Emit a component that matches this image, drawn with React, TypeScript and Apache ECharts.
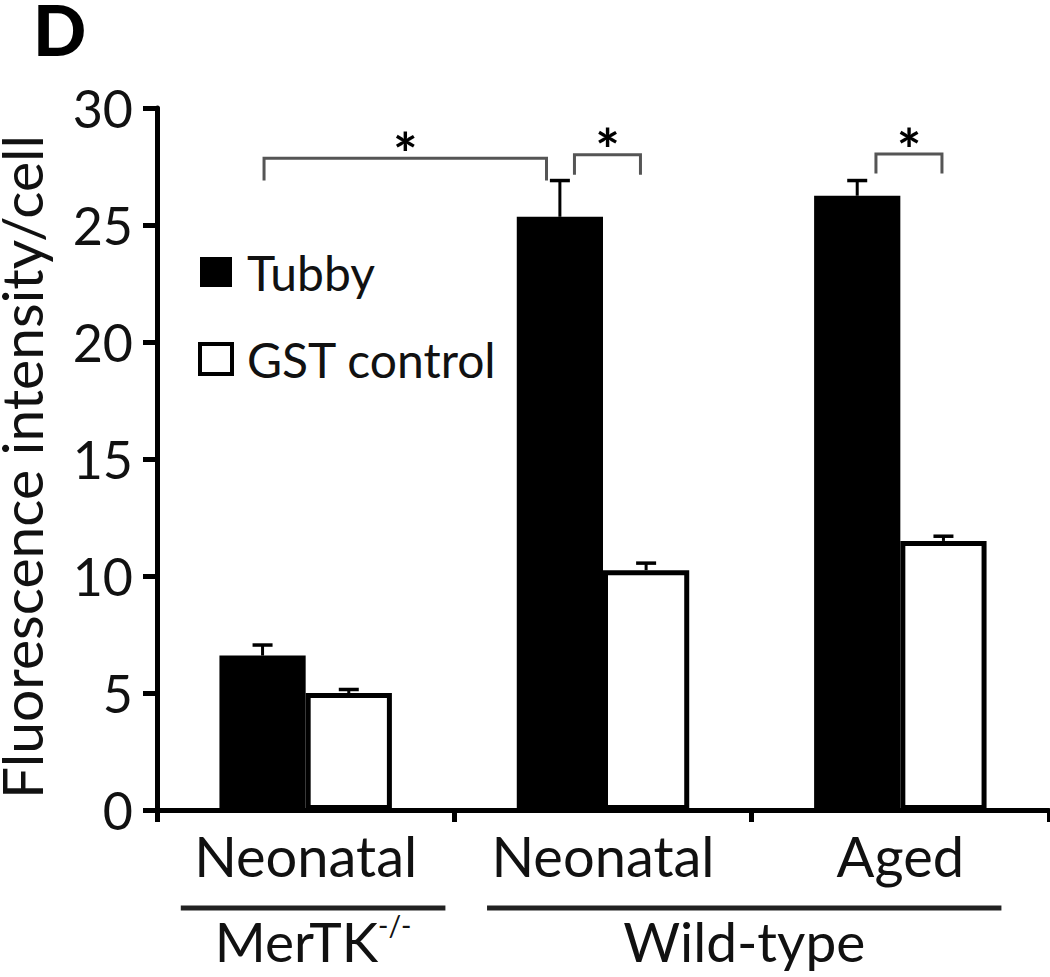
import React, { useEffect, useRef } from 'react';
import * as echarts from 'echarts';

// ---- data ----
const categories = ['Neonatal', 'Neonatal', 'Aged'];
const seriesNames = ['Tubby', 'GST control'];
const tubbyValues = [6.6, 25.35, 26.25];
const tubbyErrors = [0.45, 1.55, 0.65];
const gstValues = [5.0, 10.25, 11.5];
const gstErrors = [0.15, 0.3, 0.2];
const yMin = 0;
const yMax = 30;
const yInterval = 5;
const yAxisTitle = 'Fluorescence intensity/cell';

// group labels under the categories
const groupNames = ['MerTK', 'Wild-type'];
const groupSups = ['-/-', ''];
const groupStart = [-0.42, 0.61]; // in category units
const groupEnd = [0.47, 2.34];

// significance brackets (x in category units, y in data units)
const bracketStart = [-0.14, 0.904, 1.918];
const bracketEnd = [0.81, 1.126, 2.14];
const bracketTop = [27.85, 28.0, 28.03];
const bracketLegEnd = [26.9, 27.15, 27.2];
const bracketLabels = ['*', '*', '*'];

const FONT = 'Lato, "Open Sans", sans-serif';
const BAR_CAT_GAP = 0.42;

export default function App() {
  const ref = useRef<HTMLDivElement>(null);

  useEffect(() => {
    if (!ref.current) return;
    const chart = echarts.init(ref.current, undefined, { renderer: 'svg' });

    const errData: number[][] = [];
    tubbyValues.forEach((v, i) => errData.push([i, v, tubbyErrors[i], 0]));
    gstValues.forEach((v, i) => errData.push([i, v, gstErrors[i], 1]));

    const option: any = {
      animation: false,
      backgroundColor: '#fff',
      grid: {
        left: 157,
        right: 1,
        top: 108,
        bottom: 167,
        containLabel: false,
        outerBoundsMode: 'none',
      },
      legend: {
        orient: 'vertical',
        left: 193,
        top: 243,
        itemWidth: 32,
        itemHeight: 30,
        itemGap: 39,
        textStyle: { fontSize: 48, fontFamily: FONT, color: '#111', padding: [0, 0, 0, 10] },
        data: [
          { name: seriesNames[0], icon: 'rect', itemStyle: { color: '#000' } },
          {
            name: seriesNames[1],
            icon: 'rect',
            itemStyle: { color: '#fff', borderColor: '#000', borderWidth: 4 },
          },
        ],
      },
      xAxis: {
        type: 'category',
        data: categories,
        axisLine: { lineStyle: { color: '#000', width: 5 } },
        axisTick: { show: true, length: 12, lineStyle: { color: '#000', width: 5 } },
        axisLabel: { fontSize: 56, fontFamily: FONT, color: '#111', margin: 17 },
      },
      yAxis: {
        type: 'value',
        min: yMin,
        max: yMax,
        interval: yInterval,
        name: yAxisTitle,
        nameLocation: 'middle',
        nameGap: 116,
        nameTextStyle: {
          fontSize: 57,
          lineHeight: 40,
          fontFamily: FONT,
          color: '#111',
          padding: [0, 16, 0, 0],
        },
        splitLine: { show: false },
        axisLine: { show: true, lineStyle: { color: '#000', width: 5 } },
        axisTick: { show: true, length: 14, lineStyle: { color: '#000', width: 5 } },
        axisLabel: { fontSize: 52, fontFamily: FONT, color: '#111', margin: 24 },
      },
      series: [
        {
          name: seriesNames[0],
          type: 'bar',
          data: tubbyValues,
          barGap: '0%',
          barCategoryGap: BAR_CAT_GAP * 100 + '%',
          itemStyle: { color: '#000' },
          z: 2,
        },
        {
          name: seriesNames[1],
          type: 'bar',
          data: gstValues,
          barGap: '0%',
          barCategoryGap: BAR_CAT_GAP * 100 + '%',
          itemStyle: { color: '#fff', borderColor: '#000', borderWidth: 5 },
          z: 2,
        },
        {
          name: 'errors',
          type: 'custom',
          data: errData,
          encode: { x: 0, y: 1 },
          z: 3,
          renderItem: (params: any, api: any) => {
            const cat = api.value(0);
            const val = api.value(1);
            const err = api.value(2);
            const s = api.value(3);
            const band = api.size([1, 0])[0];
            const barW = (band * (1 - BAR_CAT_GAP)) / 2;
            const c = api.coord([cat, val]);
            const t = api.coord([cat, val + err]);
            const x = c[0] + (s === 0 ? -barW / 2 : barW / 2);
            return {
              type: 'group',
              children: [
                {
                  type: 'line',
                  shape: { x1: x, y1: c[1], x2: x, y2: t[1] },
                  style: { stroke: '#000', lineWidth: 3 },
                },
                {
                  type: 'line',
                  shape: { x1: x - 10, y1: t[1], x2: x + 10, y2: t[1] },
                  style: { stroke: '#000', lineWidth: 3.5 },
                },
              ],
            };
          },
        },
        {
          name: 'brackets',
          type: 'custom',
          data: bracketTop.map((v, i) => [0, v, i]),
          encode: { x: 0, y: 1 },
          z: 4,
          renderItem: (params: any, api: any) => {
            const i = api.value(2);
            const band = api.size([1, 0])[0];
            const c0 = api.coord([0, bracketTop[i]]);
            const legY = api.coord([0, bracketLegEnd[i]])[1];
            const x1 = c0[0] + bracketStart[i] * band;
            const x2 = c0[0] + bracketEnd[i] * band;
            const y = c0[1];
            return {
              type: 'group',
              children: [
                {
                  type: 'polyline',
                  shape: { points: [[x1, legY], [x1, y], [x2, y], [x2, legY]] },
                  style: { stroke: '#555', lineWidth: 3, fill: 'none' },
                },
                {
                  type: 'text',
                  style: {
                    text: bracketLabels[i],
                    x: (x1 + x2) / 2,
                    y: y - 6,
                    align: 'center',
                    verticalAlign: 'middle',
                    fontSize: 58,
                    fontWeight: 'bold',
                    fontFamily: FONT,
                    fill: '#000',
                  },
                },
              ],
            };
          },
        },
      ],
    };

    chart.setOption(option);

    // group lines and labels below the category axis, positioned from the axis scale
    const centers = categories.map((_, i) => chart.convertToPixel({ xAxisIndex: 0 }, i) as number);
    const band = centers[1] - centers[0];
    const graphics: any[] = [];
    groupNames.forEach((name, g) => {
      const xa = centers[0] + groupStart[g] * band;
      const xb = centers[0] + groupEnd[g] * band;
      graphics.push({
        type: 'line',
        shape: { x1: xa, y1: 908, x2: xb, y2: 908 },
        style: { stroke: '#222', lineWidth: 5 },
      });
      const sup = groupSups[g];
      graphics.push({
        type: 'text',
        x: (xa + xb) / 2,
        y: 941,
        style: {
          text: sup ? `{m|${name}}{s|${sup}}` : `{m|${name}}`,
          align: 'center',
          verticalAlign: 'middle',
          fontFamily: FONT,
          fill: '#111',
          rich: {
            m: { fontSize: 55, fontFamily: FONT, fill: '#111', lineHeight: 60 },
            s: { fontSize: 28, fontFamily: FONT, fill: '#111', verticalAlign: 'top', lineHeight: 60 },
          },
        },
      });
    });
    graphics.push({
      type: 'text',
      x: 33,
      y: 29,
      style: {
        text: 'D',
        fontSize: 70,
        lineHeight: 56,
        fontWeight: 900,
        fontFamily: FONT,
        fill: '#000',
        verticalAlign: 'middle',
      },
    });
    chart.setOption({ graphic: graphics });

    return () => chart.dispose();
  }, []);

  return (
    <div
      ref={ref}
      style={{ position: 'absolute', left: 0, top: 0, width: 1050, height: 977, background: '#fff' }}
    />
  );
}
